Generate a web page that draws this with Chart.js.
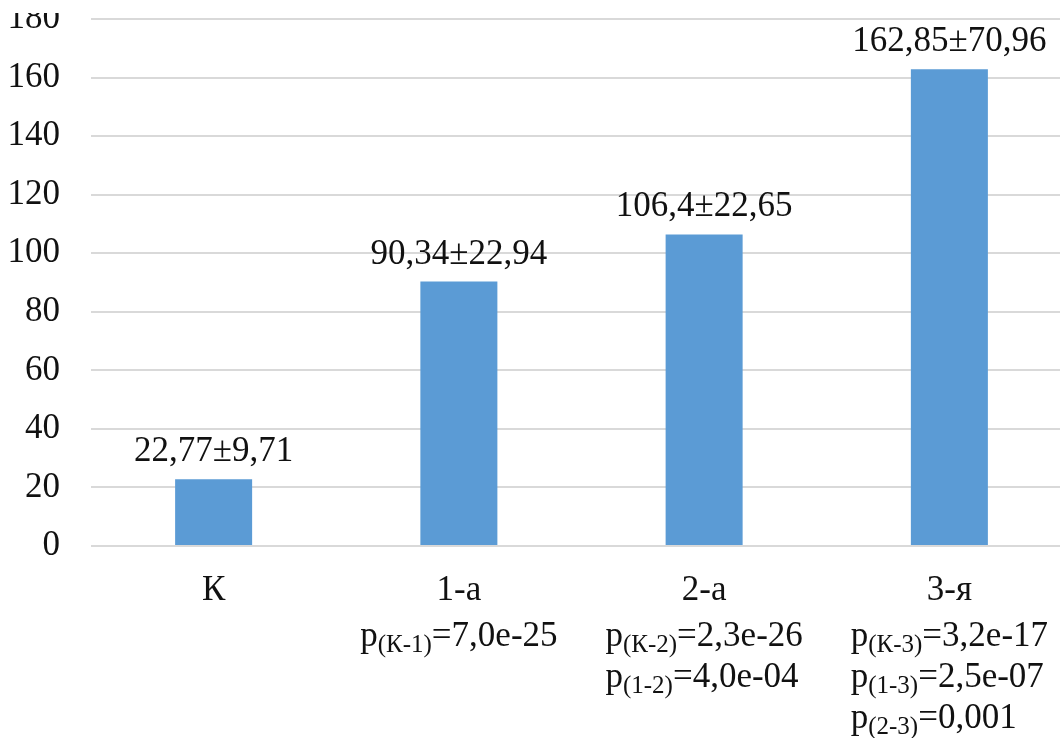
<!DOCTYPE html>
<html>
<head>
<meta charset="utf-8">
<script src="https://cdn.jsdelivr.net/npm/chart.js@4"></script>
<style>
    html, body { margin: 0; padding: 0; background: #fff; overflow: hidden; }
    #wrap { position: relative; width: 1060px; height: 738px; overflow: hidden; }
    #chart { position: absolute; left: 0; top: 13px; }
</style>
</head>
<body>
<div id="wrap">
    <canvas id="chart" width="1072" height="725"></canvas>
</div>
<script>
// Datos del gráfico
const categories = ['К', '1-а', '2-а', '3-я'];
const means = [22.77, 90.34, 106.4, 162.85];
const sds = [9.71, 22.94, 22.65, 70.96];
const yTicks = [0, 20, 40, 60, 80, 100, 120, 140, 160, 180];

// p-значения под каждой группой: [индекс, значение]
const pValues = [
    [],
    [['К-1', '7,0e-25']],
    [['К-2', '2,3e-26'], ['1-2', '4,0e-04']],
    [['К-3', '3,2e-17'], ['1-3', '2,5e-07'], ['2-3', '0,001']],
];

const FONT = '"Liberation Serif", "Times New Roman", serif';
const num = v => String(v).replace('.', ',');

// Etiquetas encima de las barras
const valueLabels = {
    id: 'valueLabels',
    afterDatasetsDraw(chart) {
        const ctx = chart.ctx;
        const meta = chart.getDatasetMeta(0);
        ctx.save();
        ctx.font = '35px ' + FONT;
        ctx.fillStyle = '#111';
        ctx.textAlign = 'center';
        ctx.textBaseline = 'alphabetic';
        meta.data.forEach((bar, i) => {
            ctx.fillText(num(means[i]) + '±' + num(sds[i]), bar.x, bar.y - 18);
        });
        ctx.restore();
    }
};

// Líneas de p con subíndices debajo del eje X
const pLabels = {
    id: 'pLabels',
    afterDraw(chart) {
        const ctx = chart.ctx;
        const xScale = chart.scales.x;
        const mainFont = '35px ' + FONT;
        const subFont = '25px ' + FONT;
        const firstBaseline = chart.chartArea.bottom + 100;
        const lineGap = 41;
        ctx.save();
        ctx.fillStyle = '#111';
        ctx.textAlign = 'left';
        ctx.textBaseline = 'alphabetic';
        pValues.forEach((lines, i) => {
            if (!lines.length) return;
            const widths = lines.map(([sub, val]) => {
                ctx.font = mainFont;
                const w1 = ctx.measureText('p').width;
                const w3 = ctx.measureText('=' + val).width;
                ctx.font = subFont;
                const w2 = ctx.measureText('(' + sub + ')').width;
                return w1 + w2 + w3;
            });
            const maxW = Math.max(...widths);
            const left = xScale.getPixelForValue(i) - maxW / 2;
            lines.forEach(([sub, val], j) => {
                const y = firstBaseline + j * lineGap;
                let x = left;
                ctx.font = mainFont;
                ctx.fillText('p', x, y);
                x += ctx.measureText('p').width;
                ctx.font = subFont;
                ctx.fillText('(' + sub + ')', x, y + 6);
                x += ctx.measureText('(' + sub + ')').width;
                ctx.font = mainFont;
                ctx.fillText('=' + val, x, y);
            });
        });
        ctx.restore();
    }
};

new Chart(document.getElementById('chart'), {
    type: 'bar',
    data: {
        labels: categories,
        datasets: [{
            data: means,
            backgroundColor: '#5b9bd5',
            borderWidth: 0,
            categoryPercentage: 1,
            barPercentage: 0.314,
        }]
    },
    options: {
        responsive: false,
        animation: false,
        events: [],
        layout: { padding: { top: 6, left: 0, right: 0, bottom: 0 } },
        plugins: {
            legend: { display: false },
            tooltip: { enabled: false },
        },
        scales: {
            x: {
                grid: { display: false },
                border: { display: false },
                ticks: {
                    color: '#111',
                    font: { family: FONT, size: 35 },
                    padding: 16,
                    maxRotation: 0,
                },
                afterFit(scale) {
                    scale.height = 192;
                    scale.paddingLeft = 0;
                    scale.paddingRight = 0;
                }
            },
            y: {
                min: yTicks[0],
                max: yTicks[yTicks.length - 1],
                afterBuildTicks(scale) {
                    scale.ticks = yTicks.map(v => ({ value: v }));
                },
                grid: { color: '#d9d9d9', lineWidth: 2, drawTicks: false },
                border: { display: false },
                ticks: {
                    color: '#111',
                    font: { family: FONT, size: 35 },
                    padding: 31,
                },
                afterFit(scale) {
                    scale.width = 91;
                    scale.paddingTop = 0;
                    scale.paddingBottom = 0;
                }
            }
        }
    },
    plugins: [valueLabels, pLabels]
});
</script>
</body>
</html>
